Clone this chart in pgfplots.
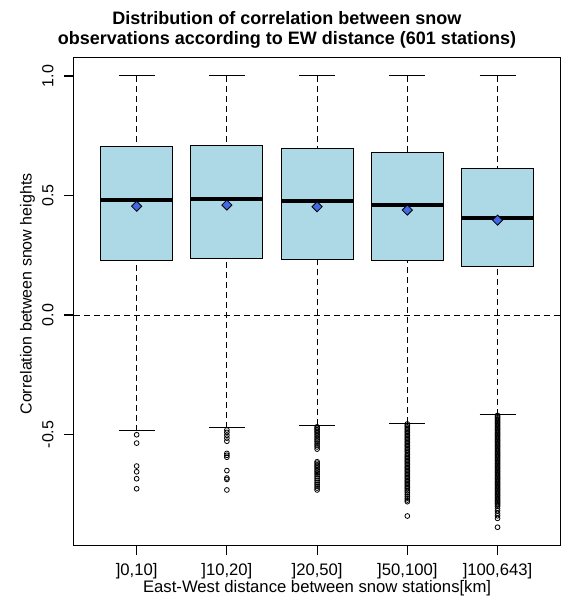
\documentclass[border=0pt]{standalone}
\usepackage{pgfplots}
\pgfplotsset{compat=1.18}
\usepgfplotslibrary{statistics}
\usepackage{fontspec}
\setmainfont{Liberation Sans}

\definecolor{boxfill}{HTML}{ADD8E6}
\definecolor{meanblue}{HTML}{4169E1}

\pgfplotsset{
  rbox/.style={
    draw=black, line width=0.75pt, solid,
    boxplot/draw direction=y,
    boxplot/box extend=0.8,
    boxplot/whisker extend=0.4,
    boxplot/every box/.style={fill=boxfill},
    boxplot/every median/.style={line width=2.8pt},
    boxplot/draw/lower whisker/.code={%
      \draw[dash pattern=on 4.5pt off 3pt]
        (boxplot box cs:\pgfplotsboxplotvalue{lower whisker},0.5) --
        (boxplot box cs:\pgfplotsboxplotvalue{lower quartile},0.5);
      \draw[solid]
        (boxplot whisker cs:\pgfplotsboxplotvalue{lower whisker},0) --
        (boxplot whisker cs:\pgfplotsboxplotvalue{lower whisker},1);
    },
    boxplot/draw/upper whisker/.code={%
      \draw[dash pattern=on 4.5pt off 3pt]
        (boxplot box cs:\pgfplotsboxplotvalue{upper whisker},0.5) --
        (boxplot box cs:\pgfplotsboxplotvalue{upper quartile},0.5);
      \draw[solid]
        (boxplot whisker cs:\pgfplotsboxplotvalue{upper whisker},0) --
        (boxplot whisker cs:\pgfplotsboxplotvalue{upper whisker},1);
    },
  },
  outl/.style={only marks, mark=o, mark size=1.8pt,
    mark options={solid, line width=0.6pt, draw=black}},
}

% short tick strokes set as TeX rules
\newcommand\htick{\rule[-0.4pt]{7.2pt}{0.8pt}}
\newcommand\vtick{\rule{0.8pt}{7.2pt}}

\begin{document}
\begin{tikzpicture}
\path[use as bounding box] (-55.125pt,-45.75pt) rectangle (375.375pt,408.75pt);
\begin{axis}[
  name=ax,
  at={(0pt,0pt)}, anchor=south west,
  scale only axis,
  width=365.4pt, height=365.25pt,
  xmin=0.3, xmax=5.7,
  ymin=-0.9623, ymax=1.0753,
  axis line style={line width=0.75pt},
  xtick align=outside, ytick align=outside,
  tickwidth=7.2pt,
  tick style={draw=black, line width=0.75pt, solid},
  xtick pos=bottom, ytick pos=left,
  xtick={1,2,3,4,5},
  xticklabels={{]0,10]},{]10,20]},{]20,50]},{]50,100]},{]100,643]}},
  ytick={-0.5,0,0.5,1},
  yticklabels={-0.5,0.0,0.5,1.0},
  xticklabel style={anchor=base, font=\fontsize{12.5}{14}\selectfont},
  xticklabel shift=15.3pt,
  yticklabel style={rotate=90, anchor=base, font=\fontsize{12}{14}\selectfont},
  yticklabel shift=7.95pt,
  xlabel={East-West distance between snow stations[km]},
  ylabel={Correlation between snow heights},
  every axis x label/.style={at={(axis description cs:0.5,-0.0975)},
    anchor=base, font=\fontsize{12.5}{14}\selectfont},
  every axis y label/.style={at={(axis description cs:-0.0858,0.5154)},
    rotate=90, anchor=base, font=\fontsize{12}{14}\selectfont},
]

% reference line at zero correlation
\addplot[black, line width=0.75pt, dash pattern=on 4.5pt off 3pt]
  coordinates {(0.3,0) (5.7,0)};

% boxes
\addplot[rbox, boxplot prepared={draw position=1,
  lower whisker=-0.484, lower quartile=0.227, median=0.480,
  upper quartile=0.706, upper whisker=1.0}] coordinates {};
\addplot[rbox, boxplot prepared={draw position=2,
  lower whisker=-0.471, lower quartile=0.238, median=0.485,
  upper quartile=0.710, upper whisker=1.0}] coordinates {};
\addplot[rbox, boxplot prepared={draw position=3,
  lower whisker=-0.462, lower quartile=0.233, median=0.477,
  upper quartile=0.697, upper whisker=1.0}] coordinates {};
\addplot[rbox, boxplot prepared={draw position=4,
  lower whisker=-0.452, lower quartile=0.227, median=0.460,
  upper quartile=0.681, upper whisker=1.0}] coordinates {};
\addplot[rbox, boxplot prepared={draw position=5,
  lower whisker=-0.417, lower quartile=0.202, median=0.407,
  upper quartile=0.615, upper whisker=1.0}] coordinates {};

% outliers
\addplot[outl] coordinates {
  (1,-0.501) (1,-0.536) (1,-0.632) (1,-0.656) (1,-0.685) (1,-0.727)};
\addplot[outl] coordinates {
  (2,-0.481) (2,-0.491) (2,-0.503) (2,-0.515) (2,-0.528) (2,-0.579)
  (2,-0.587) (2,-0.595) (2,-0.651) (2,-0.682) (2,-0.688) (2,-0.732)};
\addplot[outl] coordinates {
  (3,-0.468) (3,-0.474) (3,-0.480) (3,-0.487) (3,-0.493) (3,-0.500)
  (3,-0.507) (3,-0.514) (3,-0.521) (3,-0.528) (3,-0.536) (3,-0.544)
  (3,-0.552) (3,-0.561)
  (3,-0.614) (3,-0.620) (3,-0.627) (3,-0.633) (3,-0.640) (3,-0.647)
  (3,-0.654) (3,-0.661) (3,-0.668) (3,-0.676) (3,-0.684) (3,-0.692)
  (3,-0.700) (3,-0.708) (3,-0.716) (3,-0.724) (3,-0.732)};
\addplot[outl] coordinates {
  (4,-0.456) (4,-0.462) (4,-0.468) (4,-0.474) (4,-0.480) (4,-0.486)
  (4,-0.492) (4,-0.498) (4,-0.504) (4,-0.510) (4,-0.516) (4,-0.522)
  (4,-0.528) (4,-0.534) (4,-0.540) (4,-0.546) (4,-0.552) (4,-0.558)
  (4,-0.564) (4,-0.570) (4,-0.577) (4,-0.584) (4,-0.590) (4,-0.596)
  (4,-0.602) (4,-0.608) (4,-0.614) (4,-0.620) (4,-0.626) (4,-0.632)
  (4,-0.638) (4,-0.644) (4,-0.650) (4,-0.656) (4,-0.662) (4,-0.668)
  (4,-0.674) (4,-0.680) (4,-0.686) (4,-0.692) (4,-0.698) (4,-0.704)
  (4,-0.710) (4,-0.716) (4,-0.722) (4,-0.728) (4,-0.735) (4,-0.742)
  (4,-0.750) (4,-0.758) (4,-0.766) (4,-0.774) (4,-0.781) (4,-0.841)};
\addplot[outl] coordinates {
  (5,-0.420) (5,-0.425) (5,-0.430) (5,-0.435) (5,-0.440) (5,-0.445)
  (5,-0.450) (5,-0.455) (5,-0.460) (5,-0.465) (5,-0.470) (5,-0.475)
  (5,-0.480) (5,-0.485) (5,-0.490) (5,-0.495) (5,-0.500) (5,-0.505)
  (5,-0.510) (5,-0.515) (5,-0.520) (5,-0.525) (5,-0.530) (5,-0.535)
  (5,-0.540) (5,-0.545) (5,-0.550) (5,-0.555) (5,-0.560) (5,-0.565)
  (5,-0.570) (5,-0.575) (5,-0.580) (5,-0.585) (5,-0.590) (5,-0.595)
  (5,-0.600) (5,-0.605) (5,-0.610) (5,-0.615) (5,-0.620) (5,-0.625)
  (5,-0.630) (5,-0.635) (5,-0.640) (5,-0.645) (5,-0.650) (5,-0.655)
  (5,-0.660) (5,-0.665) (5,-0.670) (5,-0.675) (5,-0.680) (5,-0.685)
  (5,-0.690) (5,-0.695) (5,-0.700) (5,-0.705) (5,-0.710) (5,-0.715)
  (5,-0.720) (5,-0.725) (5,-0.730) (5,-0.735) (5,-0.740) (5,-0.745)
  (5,-0.750) (5,-0.755) (5,-0.760) (5,-0.765) (5,-0.770) (5,-0.775)
  (5,-0.780) (5,-0.785) (5,-0.790) (5,-0.795) (5,-0.800) (5,-0.809)
  (5,-0.819) (5,-0.830) (5,-0.840) (5,-0.851) (5,-0.888)};

% group means
\addplot[only marks, mark=square*, mark size=2.7pt,
  mark options={rotate=45, fill=meanblue, draw=black, line width=0.6pt}]
  coordinates {(1,0.455) (2,0.460) (3,0.453) (4,0.439) (5,0.397)};
\end{axis}

% outward tick strokes along the left and bottom frame
\foreach \yy in {82.87,172.50,262.12,351.75}
  \node[inner sep=0pt, anchor=east] at (0.2pt,\yy pt) {\htick};
\foreach \xx in {47.37,115.03,182.70,250.37,318.03}
  \node[inner sep=0pt, anchor=north] at (\xx pt,0.2pt) {\vtick};

\node[anchor=base, font=\bfseries\fontsize{13.5}{16}\selectfont]
  at (160.1pt,390pt) {Distribution of correlation between snow};
\node[anchor=base, font=\bfseries\fontsize{13.5}{16}\selectfont]
  at (160.1pt,375.4pt) {observations according to EW distance (601 stations)};
\end{tikzpicture}
\end{document}
